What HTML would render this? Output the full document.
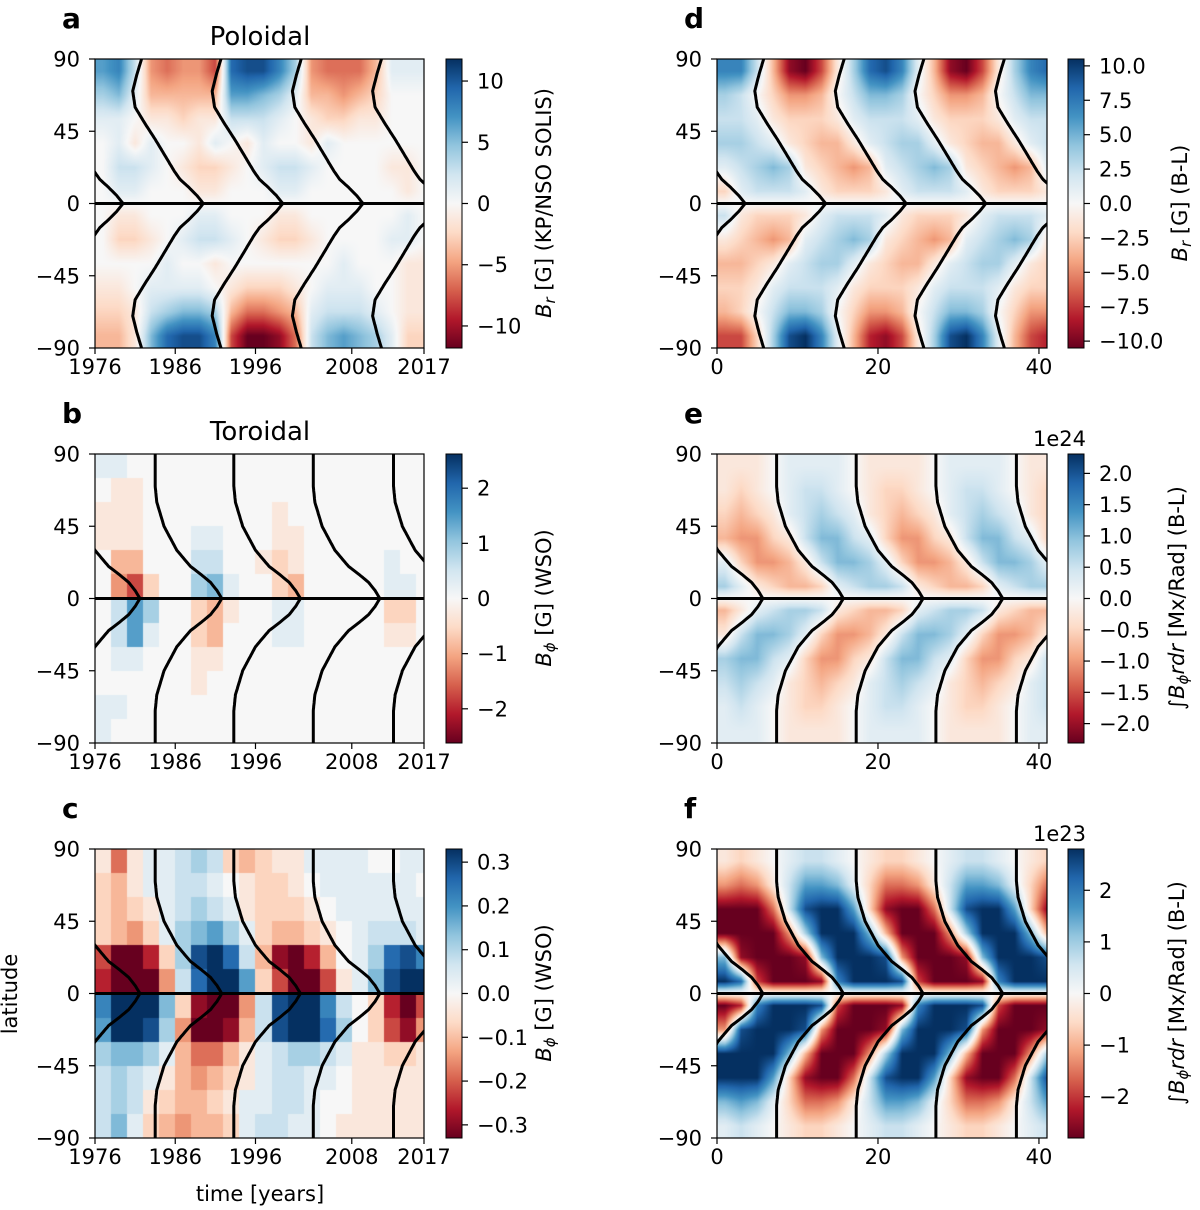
<!DOCTYPE html>
<html><head><meta charset="utf-8">
<style>
html,body{margin:0;padding:0;background:#fff;}
#wrap{position:relative;width:1200px;height:1210px;overflow:hidden;font-family:"DejaVu Sans","Liberation Sans",sans-serif;}
canvas{position:absolute;}
svg{position:absolute;left:0;top:0;}
</style></head>
<body>
<div id="wrap">
<svg id="svg" width="1200" height="1210"></svg>
</div>
<script>
// ---- data (values in -9..9 units of colour saturation); columns at years 1,3,...,41 from axis start; rows lat 82.5 .. -82.5 ----
const timeColumns = [1,3,5,7,9,11,13,15,17,19,21,23,25,27,29,31,33,35,37,39,41];
const latRows = [82.5,67.5,52.5,37.5,22.5,7.5,-7.5,-22.5,-37.5,-52.5,-67.5,-82.5];
const panelAValues = [
 [5,6,2,-4,-5,-4,-4,-6,7,8,8,6,3,-4,-5,-5,-5,-3,1,1,1],
 [3,4,1,-3,-3,-3,-3,-3,5,5,4,3,1,-3,-3,-4,-3,-2,0,0,0],
 [1,1,0,-1,-1,-2,-1,-1,2,2,2,1,0,-1,-2,-2,-1,-1,0,0,0],
 [0,1,-1,1,0,0,-1,1,0,-1,1,0,0,-1,1,0,0,0,0,0,0],
 [0,2,2,1,0,-1,-2,-2,-1,0,1,2,2,1,0,0,0,0,-1,-1,0],
 [0,1,1,0,0,0,-1,-1,0,0,0,1,1,0,0,0,0,0,0,-1,0],
 [0,-1,-1,0,0,0,1,1,0,0,0,-1,-1,0,0,0,0,0,0,1,0],
 [0,-2,-2,-1,0,1,2,2,1,0,-1,-2,-2,-1,0,0,0,0,1,1,0],
 [0,0,0,0,1,0,0,-1,0,0,0,0,0,0,0,1,0,0,0,-1,-1],
 [-1,-1,0,1,1,1,1,0,-1,-2,-2,-2,-1,0,1,1,1,0,0,-1,-1],
 [-2,-2,-1,2,3,4,4,3,-3,-5,-5,-4,-3,1,2,2,2,1,0,-1,-1],
 [-3,-3,-1,4,7,8,8,6,-6,-9,-9,-8,-5,2,4,5,4,3,1,-2,-2]];
const panelBValues = [
 [1,1,0,0,0,0,0,0,0,0,0,0,0,0,0,0,0,0,0,0,0],
 [0,-1,-1,0,0,0,0,0,0,0,0,0,0,0,0,0,0,0,0,0,0],
 [-1,-1,-1,0,0,0,0,0,0,0,0,-1,0,0,0,0,0,0,0,0,0],
 [-1,-1,-1,0,0,0,1,1,0,0,0,-1,-1,0,0,0,0,0,0,0,0],
 [0,-3,-3,0,0,0,2,2,0,0,-1,-2,-1,0,0,0,0,0,1,0,0],
 [0,-4,-6,-2,0,0,3,4,1,0,0,-2,-3,0,0,0,0,0,1,1,0],
 [0,2,5,3,0,0,-2,-3,-1,0,0,1,1,0,0,0,0,0,-2,-2,0],
 [0,2,5,1,0,0,-2,-3,0,0,0,1,1,0,0,0,0,0,-1,-1,0],
 [0,1,1,0,0,0,-1,-1,0,0,0,0,0,0,0,0,0,0,0,0,0],
 [0,0,0,0,0,0,-1,0,0,0,0,0,0,0,0,0,0,0,0,0,0],
 [1,1,0,0,0,0,0,0,0,0,0,0,0,0,0,0,0,0,0,0,0],
 [1,0,0,0,0,0,0,0,0,0,0,0,0,0,0,0,0,0,0,0,0]];
const panelCValues = [
 [-1,-5,-1,1,1,2,3,2,-2,-3,-2,-1,-1,1,1,1,1,0,0,1,1],
 [-2,-3,-1,1,1,2,2,1,0,-1,-2,-2,-1,0,1,1,1,1,1,1,0],
 [-2,-3,-2,-1,1,2,3,2,1,-1,-2,-2,-2,-1,0,1,1,1,1,1,1],
 [-2,-3,-4,-2,1,3,4,5,3,1,-2,-3,-3,-2,-1,0,1,2,2,2,1],
 [-6,-9,-9,-7,-2,3,8,9,7,2,-3,-8,-9,-7,-3,0,1,3,7,8,6],
 [-7,-9,-9,-9,-4,2,7,9,9,5,-2,-6,-9,-9,-6,-1,1,4,8,9,9],
 [6,9,9,9,4,-2,-8,-9,-9,-4,2,8,9,9,6,2,0,-2,-7,-9,-6],
 [5,9,9,8,3,-4,-9,-9,-8,-3,2,8,9,9,7,3,0,-2,-6,-8,-4],
 [3,4,4,3,1,-3,-5,-5,-3,-1,1,2,3,3,2,1,-1,-1,-2,-2,-1],
 [2,3,2,1,-1,-3,-4,-3,-2,-1,1,2,2,1,1,0,-1,-1,-1,-1,-1],
 [2,3,2,-1,-2,-3,-3,-2,-1,1,1,2,2,1,0,0,-1,-1,-1,-1,-1],
 [2,4,1,-2,-3,-4,-3,-3,-2,1,2,2,1,1,0,-1,-1,-1,-1,-1,-1]];
const panelDValues = [
 [6,6,2,-3,-8,-9,-6,-1,3,7,8,6,1,-3,-8,-9,-6,-1,3,6,7],
 [3,2,0,-2,-4,-4,-3,0,2,4,4,3,0,-2,-4,-4,-3,0,2,4,4],
 [2,2,1,-1,-2,-2,-2,-1,1,2,2,2,1,-1,-2,-2,-2,-1,1,2,2],
 [3,3,2,1,-1,-2,-3,-3,-1,1,2,3,3,1,-1,-2,-3,-3,-1,1,2],
 [1,2,3,4,3,-1,-2,-3,-4,-3,1,2,3,4,3,-1,-2,-3,-4,-3,1],
 [-2,1,2,2,2,1,-1,-2,-2,-2,-1,1,2,2,2,1,-1,-2,-2,-2,-1],
 [2,-1,-2,-2,-2,-1,1,2,2,2,1,-1,-2,-2,-2,-1,1,2,2,2,1],
 [-1,-2,-3,-4,-3,1,2,3,4,3,-1,-2,-3,-4,-3,1,2,3,4,3,-1],
 [-3,-3,-2,-1,1,2,3,3,1,-1,-2,-3,-3,-1,1,2,3,3,1,-1,-2],
 [-2,-2,-1,1,2,2,2,1,-1,-2,-2,-2,-1,1,2,2,2,1,-1,-2,-2],
 [-3,-2,0,2,4,4,3,0,-2,-4,-4,-3,0,2,4,4,3,0,-2,-4,-4],
 [-6,-6,-2,3,8,9,6,1,-3,-7,-8,-6,-1,3,8,9,6,1,-3,-6,-7]];
const panelEValues = [
 [-1,-1,-1,0,1,1,1,1,0,-1,-1,-1,-1,0,1,1,1,1,0,-1,-1],
 [-1,-2,-1,0,1,2,2,1,0,-1,-2,-2,-1,0,1,2,2,1,0,-1,-2],
 [-2,-3,-2,-1,1,2,3,2,1,-1,-2,-3,-2,-1,1,2,3,2,1,-1,-2],
 [-3,-4,-4,-2,-1,2,4,4,2,1,-2,-4,-4,-2,-1,2,4,4,2,1,-2],
 [1,-2,-4,-4,-3,-1,2,4,4,3,1,-2,-4,-4,-3,-1,2,4,4,3,1],
 [3,1,-1,-2,-3,-3,-2,1,2,3,3,2,-1,-2,-3,-3,-2,1,2,3,3],
 [-3,-1,1,2,3,3,2,-1,-2,-3,-3,-2,1,2,3,3,2,-1,-2,-3,-3],
 [-1,2,4,4,3,1,-2,-4,-4,-3,-1,2,4,4,3,1,-2,-4,-4,-3,-1],
 [3,4,4,2,1,-2,-4,-4,-2,-1,2,4,4,2,1,-2,-4,-4,-2,-1,2],
 [2,3,2,1,-1,-2,-3,-2,-1,1,2,3,2,1,-1,-2,-3,-2,-1,1,2],
 [1,2,1,0,-1,-2,-2,-1,0,1,2,2,1,0,-1,-2,-2,-1,0,1,2],
 [1,1,1,0,-1,-1,-1,-1,0,1,1,1,1,0,-1,-1,-1,-1,0,1,1]];
const panelFValues = [
 [-1,-2,-1,0,1,2,2,1,0,-1,-2,-2,-1,0,1,2,2,1,0,-1,-2],
 [-4,-5,-4,-1,2,5,5,4,1,-2,-5,-5,-4,-1,2,5,5,4,1,-2,-5],
 [-9,-9,-9,-5,2,8,9,9,5,-2,-8,-9,-9,-5,2,8,9,9,5,-2,-8],
 [-9,-9,-9,-9,-4,3,9,9,9,4,-3,-9,-9,-9,-4,3,9,9,9,4,-3],
 [4,-8,-9,-9,-9,-8,4,9,9,9,8,-4,-9,-9,-9,-8,4,9,9,9,8],
 [9,7,-6,-9,-9,-9,-8,6,9,9,9,8,-6,-9,-9,-9,-8,6,9,9,9],
 [-9,-7,6,9,9,9,8,-6,-9,-9,-9,-8,6,9,9,9,8,-6,-9,-9,-9],
 [-4,8,9,9,9,8,-4,-9,-9,-9,-8,4,9,9,9,8,-4,-9,-9,-9,-8],
 [9,9,9,9,4,-3,-9,-9,-9,-4,3,9,9,9,4,-3,-9,-9,-9,-4,3],
 [9,9,9,5,-2,-8,-9,-9,-5,2,8,9,9,5,-2,-8,-9,-9,-5,2,8],
 [4,5,4,1,-2,-5,-5,-4,-1,2,5,5,4,1,-2,-5,-5,-4,-1,2,5],
 [1,2,1,0,-1,-2,-2,-1,0,1,2,2,1,0,-1,-2,-2,-1,0,1,2]];
// boundary curves: apex times (years from axis start) and latitude offset profiles
const poloidalLats = [0,5,10,15,20,30,40,50,60,70,80,90];
const poloidalOffsets = [0,0.8,1.8,2.9,3.6,4.8,6,7.3,8.5,8.8,8.3,7.7];
const toroidalLats = [0,5,10,15,20,30,45,60,70,80,90];
const toroidalOffsets = [0,0.6,1.4,2.6,3.9,5.6,7.2,8.1,8.3,8.3,8.3];
const apexA = [-6.5,3.5,13.5,23.4,33.4,43.4];
const apexBC = [-4.4,5.6,15.8,25.6,35.5,45.5];
const apexD = [-6.5,3.5,13.5,23.5,33.4,43.4];
const apexEF = [-4.3,5.7,15.7,25.6,35.5,45.5];
// axis tick labels
const latTicks = [90,45,0,-45,-90];
const yearTickValues = [0,10,20,32,41];
const yearTickLabels = ["1976","1986","1996","2008","2017"];
const modelTickValues = [0,20,40];
const cbTicksA = [10,5,0,-5,-10];
const cbTicksB = [2,1,0,-1,-2];
const cbTicksC = [0.3,0.2,0.1,0,-0.1,-0.2,-0.3];
const cbTicksD = [10,7.5,5,2.5,0,-2.5,-5,-7.5,-10];
const cbTicksE = [2,1.5,1,0.5,0,-0.5,-1,-1.5,-2];
const cbTicksF = [2,1,0,-1,-2];

const RDBU = ["#67001f","#b2182b","#d6604d","#f4a582","#fddbc7","#f7f7f7","#d1e5f0","#92c5de","#4393c3","#2166ac","#053061"];
const RGB = RDBU.map(h=>[parseInt(h.substr(1,2),16),parseInt(h.substr(3,2),16),parseInt(h.substr(5,2),16)]);
function cmap(v){
  let f = 0.5 + v/18; f = Math.max(0,Math.min(1,f));
  const p = f*10, i = Math.min(9,Math.floor(p)), r = p-i;
  const a=RGB[i], b=RGB[i+1];
  return [a[0]+(b[0]-a[0])*r, a[1]+(b[1]-a[1])*r, a[2]+(b[2]-a[2])*r];
}
const NS="http://www.w3.org/2000/svg";
const svg=document.getElementById('svg');
const wrap=document.getElementById('wrap');
const FS=21;
function el(tag, attrs, parent){
  const e=document.createElementNS(NS,tag);
  for(const k in attrs) e.setAttribute(k,attrs[k]);
  (parent||svg).appendChild(e); return e;
}
function fmt(v){ return (v<0?"\u2212":"")+Math.abs(v); }
function fmtDec(v,d){ return (v<0?"\u2212":"")+Math.abs(v).toFixed(d); }

const panels=[
 {id:'a',x0:95,x1:424,top:59,vals:panelAValues,mode:'smooth',apex:apexA,lats:poloidalLats,offs:poloidalOffsets,xt:yearTickValues,xl:yearTickLabels,cbx:446,cbr:11.8,cbt:cbTicksA,cbd:0},
 {id:'b',x0:95,x1:424,top:454,vals:panelBValues,mode:'nearest',apex:apexBC,lats:toroidalLats,offs:toroidalOffsets,xt:yearTickValues,xl:yearTickLabels,cbx:446,cbr:2.62,cbt:cbTicksB,cbd:0},
 {id:'c',x0:95,x1:424,top:849,vals:panelCValues,mode:'nearest',apex:apexBC,lats:toroidalLats,offs:toroidalOffsets,xt:yearTickValues,xl:yearTickLabels,cbx:446,cbr:0.33,cbt:cbTicksC,cbd:1},
 {id:'d',x0:717,x1:1047,top:59,vals:panelDValues,mode:'smooth',apex:apexD,lats:poloidalLats,offs:poloidalOffsets,xt:modelTickValues,xl:modelTickValues.map(String),cbx:1068,cbr:10.5,cbt:cbTicksD,cbd:1},
 {id:'e',x0:717,x1:1047,top:454,vals:panelEValues,mode:'smooth',apex:apexEF,lats:toroidalLats,offs:toroidalOffsets,xt:modelTickValues,xl:modelTickValues.map(String),cbx:1068,cbr:2.31,cbt:cbTicksE,cbd:1},
 {id:'f',x0:717,x1:1047,top:849,vals:panelFValues,mode:'smooth',apex:apexEF,lats:toroidalLats,offs:toroidalOffsets,xt:modelTickValues,xl:modelTickValues.map(String),cbx:1068,cbr:2.8,cbt:cbTicksF,cbd:0}
];
const H=289, TMAX=41;

function sample(vals,c,r,mode){
  const nc=vals[0].length, nr=vals.length;
  if(mode==='nearest'){
    const ci=Math.max(0,Math.min(nc-1,Math.round(c))), ri=Math.max(0,Math.min(nr-1,Math.round(r)));
    return vals[ri][ci];
  }
  c=Math.max(0,Math.min(nc-1,c)); r=Math.max(0,Math.min(nr-1,r));
  const c0=Math.min(nc-2,Math.floor(c)), r0=Math.min(nr-2,Math.floor(r));
  const fc=c-c0, fr=r-r0;
  const v00=vals[r0][c0], v01=vals[r0][c0+1], v10=vals[r0+1][c0], v11=vals[r0+1][c0+1];
  return (v00*(1-fc)+v01*fc)*(1-fr)+(v10*(1-fc)+v11*fc)*fr;
}
function interpOff(lats,offs,lat){
  for(let i=0;i<lats.length-1;i++){
    if(lat<=lats[i+1]){ const f=(lat-lats[i])/(lats[i+1]-lats[i]); return offs[i]+(offs[i+1]-offs[i])*f; }
  }
  return offs[offs.length-1];
}

panels.forEach(p=>{
  const W=p.x1-p.x0;
  const xs=t=>p.x0+t/TMAX*W;
  const ys=lat=>p.top+(90-lat)/180*H;
  const cv=document.createElement('canvas');
  
  
  cv.width=W; cv.height=H; cv.style.left=p.x0+'px'; cv.style.top=p.top+'px';
  wrap.insertBefore(cv,svg);
  const ctx=cv.getContext('2d'); const img=ctx.createImageData(W,H);
  const colStep=timeColumns[1]-timeColumns[0], rowStep=latRows[0]-latRows[1];
  for(let py=0;py<H;py++){
    const lat=90-(py+0.5)/H*180; const r=(latRows[0]-lat)/rowStep;
    for(let px=0;px<W;px++){
      const t=(px+0.5)/W*TMAX; const c=(t-timeColumns[0])/colStep;
      const col=cmap(sample(p.vals,c,r,p.mode));
      const k=(py*W+px)*4; img.data[k]=col[0]; img.data[k+1]=col[1]; img.data[k+2]=col[2]; img.data[k+3]=255;
    }
  }
  ctx.putImageData(img,0,0);
  const g=el('g',{});
  
  
  const cp=el('clipPath',{id:'clip'+p.id},g);
  el('rect',{x:p.x0,y:p.top,width:W,height:H},cp);
  p.apex.forEach((a,i)=>{
    let d='';
    for(let lat=90;lat>=-90;lat-=1){
      const x=xs(a-interpOff(p.lats,p.offs,Math.abs(lat))), y=ys(lat);
      d+=(d?'L':'M')+x.toFixed(1)+','+y.toFixed(1);
    }
    const path=el('path',{d:d,fill:'none',stroke:'#000','stroke-width':3,'stroke-linejoin':'round','clip-path':'url(#clip'+p.id+')'},g);
    
    
  });
  const eq=el('line',{x1:p.x0,x2:p.x1,y1:ys(0),y2:ys(0),stroke:'#000','stroke-width':3},g);
  
  
  const fr=el('rect',{x:p.x0,y:p.top,width:W,height:H,fill:'none',stroke:'#000','stroke-width':1.2},g);
  
  
  latTicks.forEach(v=>{
    const y=ys(v);
    el('line',{x1:p.x0-6,x2:p.x0,y1:y,y2:y,stroke:'#000','stroke-width':1.2},g);
    const t=el('text',{x:p.x0-15,y:y+7.5,'text-anchor':'end','font-size':FS},g);
    t.textContent=fmt(v);
    
    
  });
  p.xt.forEach((v,i)=>{
    const x=xs(v);
    el('line',{x1:x,x2:x,y1:p.top+H,y2:p.top+H+6,stroke:'#000','stroke-width':1.2},g);
    const t=el('text',{x:x,y:p.top+H+26,'text-anchor':'middle','font-size':FS},g);
    t.textContent=p.xl[i];
    
    
  });
  const gid='grad'+p.id;
  const lg=el('linearGradient',{id:gid,x1:0,y1:1,x2:0,y2:0},g);
  RDBU.forEach((c,i)=>el('stop',{offset:(i/10),'stop-color':c},lg));
  const cb=el('rect',{x:p.cbx,y:p.top,width:16,height:H,fill:'url(#'+gid+')',stroke:'#000','stroke-width':1},g);
  
  
  const cy=v=>p.top+H/2-v/p.cbr*(H/2);
  p.cbt.forEach(v=>{
    const y=cy(v);
    el('line',{x1:p.cbx+16,x2:p.cbx+22,y1:y,y2:y,stroke:'#000','stroke-width':1.2},g);
    const t=el('text',{x:p.cbx+31,y:y+7.5,'font-size':FS},g);
    t.textContent=p.cbd?fmtDec(v,p.cbd):fmt(v);
    
    
  });
  const L=el('text',{x:p.x0-33,y:p.top-31,'font-size':28,'font-weight':'bold'},g);
  L.textContent=p.id;
  
  
});
</script>
<script>
(function(){
  const NS="http://www.w3.org/2000/svg", s=document.getElementById('svg');
  function txt(html,attrs,name){
    const t=document.createElementNS(NS,'text');
    for(const k in attrs) t.setAttribute(k,attrs[k]);
    t.innerHTML=html;
    
    
    s.appendChild(t);
  }
  txt('Poloidal',{x:260,y:45,'text-anchor':'middle','font-size':26},'title-poloidal');
  txt('Toroidal',{x:260,y:440,'text-anchor':'middle','font-size':26},'title-toroidal');
  txt('latitude',{x:0,y:0,'text-anchor':'middle','font-size':21,transform:'translate(17,994) rotate(-90)'},'y-axis-title');
  txt('time [years]',{x:260,y:1201,'text-anchor':'middle','font-size':21},'x-axis-title');
  const sub=(b,s2)=>'<tspan font-style="italic">'+b+'</tspan><tspan font-style="italic" font-size="15" dy="4">'+s2+'</tspan><tspan dy="-4">';
  txt(sub('B','r')+' [G] (KP/NSO SOLIS)</tspan>',{'text-anchor':'middle','font-size':21,transform:'translate(551,203) rotate(-90)'},'colorbar-label-a');
  txt(sub('B','\u03d5')+' [G] (WSO)</tspan>',{'text-anchor':'middle','font-size':21,transform:'translate(551,598) rotate(-90)'},'colorbar-label-b');
  txt(sub('B','\u03d5')+' [G] (WSO)</tspan>',{'text-anchor':'middle','font-size':21,transform:'translate(551,993) rotate(-90)'},'colorbar-label-c');
  txt(sub('B','r')+' [G] (B-L)</tspan>',{'text-anchor':'middle','font-size':21,transform:'translate(1187,203) rotate(-90)'},'colorbar-label-d');
  const integ='\u222B<tspan font-style="italic">B</tspan><tspan font-style="italic" font-size="15" dy="4">\u03d5</tspan><tspan dy="-4" font-style="italic">rdr</tspan> [Mx/Rad] (B-L)';
  txt(integ,{'text-anchor':'middle','font-size':21,transform:'translate(1184,598) rotate(-90)'},'colorbar-label-e');
  txt(integ,{'text-anchor':'middle','font-size':21,transform:'translate(1184,993) rotate(-90)'},'colorbar-label-f');
  txt('1e24',{x:1086,y:446,'text-anchor':'end','font-size':21},'colorbar-exponent-e');
  txt('1e23',{x:1086,y:841,'text-anchor':'end','font-size':21},'colorbar-exponent-f');
})();
</script>
</body></html>
